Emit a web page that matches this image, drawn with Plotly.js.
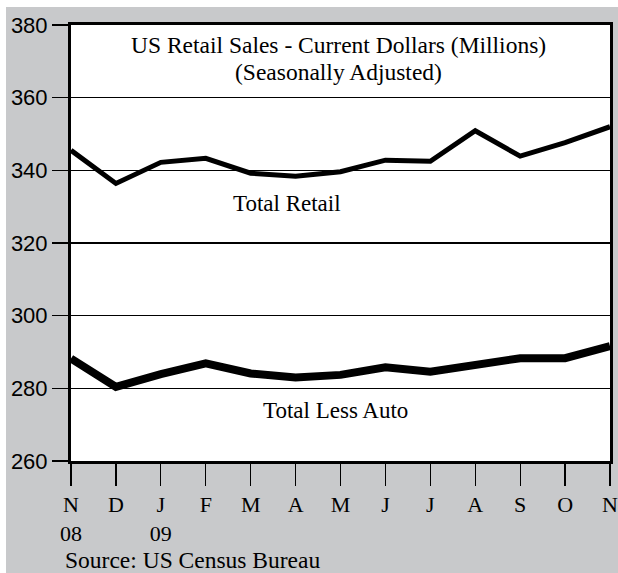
<!DOCTYPE html>
<html>
<head>
<meta charset="utf-8">
<script src="https://cdn.plot.ly/plotly-3.0.1.min.js"></script>
<style>
html,body{margin:0;padding:0;background:#ffffff;}
#chart{position:absolute;left:6px;top:7px;width:612px;height:566px;}
</style>
</head>
<body>
<div id="chart"></div>
<script>
const months = ['N','D','J','F','M','A','M','J','J','A','S','O','N'];
const years = ['08','','09','','','','','','','','','',''];
const totalRetail = [345.5, 336.4, 342.2, 343.3, 339.2, 338.4, 339.6, 342.8, 342.5, 350.9, 343.9, 347.6, 352.0];
const totalLessAuto = [288.2, 280.4, 283.9, 286.9, 284.1, 283.0, 283.7, 285.8, 284.6, 286.6, 288.3, 288.3, 291.6];
const yTicks = [260, 280, 300, 320, 340, 360, 380];
const titleLines = ['US Retail Sales - Current Dollars (Millions)', '(Seasonally Adjusted)'];

const idx = months.map((m, i) => i);
const tickText = months.map((m, i) => m + '<br>' + (years[i] || ' '));

const serif = 'Liberation Serif, Times New Roman, serif';
const sans = 'Liberation Sans, Arial, sans-serif';

const traces = [
  {x: idx, y: totalRetail, type: 'scatter', mode: 'lines', name: 'Total Retail',
   line: {color: '#000000', width: 5}, hoverinfo: 'skip'},
  {x: idx, y: totalLessAuto, type: 'scatter', mode: 'lines', name: 'Total Less Auto',
   line: {color: '#000000', width: 8}, hoverinfo: 'skip'}
];

const layout = {
  width: 612, height: 566,
  paper_bgcolor: '#c8c9cb', plot_bgcolor: '#ffffff',
  margin: {l: 65, r: 8, t: 18, b: 112},
  showlegend: false,
  xaxis: {
    range: [0, 12], tickmode: 'array', tickvals: idx, ticktext: tickText,
    ticks: 'outside', ticklen: 22, tickwidth: 1.2, tickcolor: '#000',
    ticklabeloverflow: 'allow',
    showgrid: false, zeroline: false,
    showline: true, linecolor: '#000', linewidth: 3, mirror: true,
    tickfont: {family: serif, size: 22, color: '#000'}
  },
  yaxis: {
    range: [260, 380], tickmode: 'array', tickvals: yTicks,
    ticks: 'outside', ticklen: 16, tickwidth: 1.2, tickcolor: '#000',
    showgrid: true, gridcolor: '#000', gridwidth: 1.3, zeroline: false,
    showline: true, linecolor: '#000', linewidth: 3, mirror: true,
    tickfont: {family: sans, size: 22, color: '#000'}
  },
  annotations: [
    {xref: 'paper', yref: 'paper', x: 0.497, y: 0.954, yanchor: 'middle', showarrow: false,
     text: titleLines[0], font: {family: serif, size: 23.5, color: '#000'}},
    {xref: 'paper', yref: 'paper', x: 0.497, y: 0.892, yanchor: 'middle', showarrow: false,
     text: titleLines[1], font: {family: serif, size: 23.5, color: '#000'}},
    {xref: 'x', yref: 'y', x: 4.81, y: 331.0, showarrow: false, text: 'Total Retail',
     font: {family: serif, size: 23, color: '#000'}},
    {xref: 'x', yref: 'y', x: 5.88, y: 273.8, showarrow: false, text: 'Total Less Auto',
     font: {family: serif, size: 23, color: '#000'}},
    {xref: 'paper', yref: 'paper', x: -0.0148, xanchor: 'left', y: -0.227, yanchor: 'middle', showarrow: false,
     text: 'Source: US Census Bureau', font: {family: serif, size: 23.5, color: '#000'}}
  ]
};

Plotly.newPlot('chart', traces, layout, {staticPlot: true, displayModeBar: false});
</script>
</body>
</html>
